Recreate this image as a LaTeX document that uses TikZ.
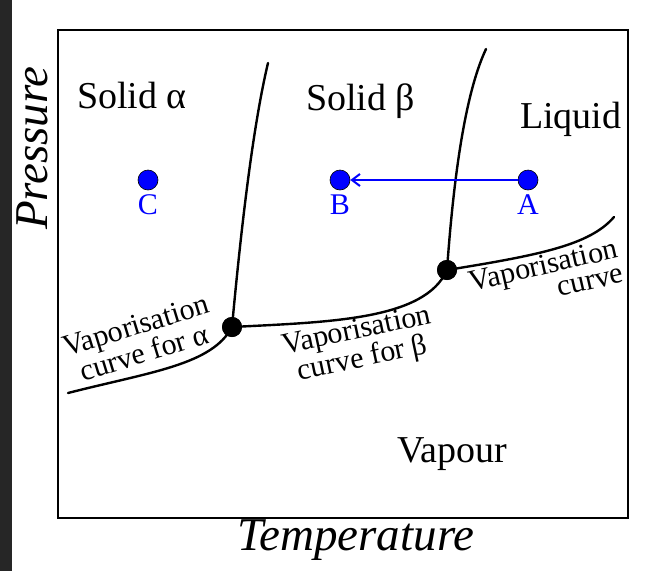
\documentclass[tikz,border=0pt]{standalone}
\usepackage{fontspec}
\setmainfont{Liberation Serif}
\usetikzlibrary{arrows.meta}
\definecolor{strip}{HTML}{262626}
\tikzset{
  curveline/.style={line width=2.4pt, line cap=round},
  triple/.style={circle, fill=black, inner sep=0pt, minimum size=20pt},
  state/.style={circle, fill=blue, draw=black, line width=0.6pt, inner sep=0pt, minimum size=20pt},
  statelbl/.style={text=blue, inner sep=0pt, anchor=base, font=\fontsize{30}{32}\selectfont},
  region/.style={inner sep=0pt, anchor=base west, font=\fontsize{38}{40}\selectfont},
  vaplbl/.style={inner sep=0pt, align=center, font=\fontsize{30}{25}\selectfont},
  axislbl/.style={inner sep=0pt, font=\fontsize{47}{50}\selectfont\itshape},
}
\begin{document}
\begin{tikzpicture}[x=1pt,y=-1pt]
\useasboundingbox (0,0) rectangle (651,571);
\fill[white] (0,0) rectangle (651,571);
\fill[strip] (0,0) rectangle (12,571);
\draw[line width=2pt] (58,30) rectangle (628,518);

% named points
\node[triple] (t1) at (232,327) {};
\node[triple] (t2) at (447,270) {};
\coordinate (mtopa) at (268,63);
\coordinate (mtopb) at (486,49);
\coordinate (vla) at (68,393);
\coordinate (vlr) at (614,217);

% curves
\draw[curveline] (t1.center) .. controls (240,240) and (252,130) .. (mtopa);
\draw[curveline] (t2.center) .. controls (452,200) and (462,100) .. (mtopb);
\draw[curveline] (vla) .. controls (150,372) and (212,365) .. (t1.center);
\draw[curveline] (t1.center) .. controls (330,322) and (425,320) .. (t2.center);
\draw[curveline] (t2.center) .. controls (540,255) and (590,245) .. (vlr);

% redraw dots on top
\node[triple] at (t1) {};
\node[triple] at (t2) {};

% states
\node[state] (C) at (148,180) {};
\node[state] (B) at (340,180) {};
\node[state] (A) at (528,180) {};
\draw[blue, line width=2pt, -{Straight Barb[length=8pt,width=12pt]}] (A) -- (B);
\node[statelbl] (Cl) at (148,214) {C};
\node[statelbl] (Bl) at (340,214) {B};
\node[statelbl] (Al) at (528,214) {A};

% region labels
\node[region] (sa) at (77,108) {Solid α};
\node[region] (sb) at (306,110) {Solid β};
\node[region] (liq) at (520,128) {Liquid};
\node[region] (vap) at (397,462) {Vapour};

% vaporisation labels
\node[vaplbl, rotate=17] (va) at (140,339) {Vaporisation\\curve for α};
\node[vaplbl, rotate=12] (vb) at (360,346) {Vaporisation\\curve for β};
\node[vaplbl, align=right, rotate=13] (vc) at (546,277) {Vaporisation\\curve};

% axes
\node[axislbl, rotate=90] (py) at (32,148) {Pressure};
\node[axislbl] (tx) at (356,540) {Temperature};
\end{tikzpicture}
\end{document}
